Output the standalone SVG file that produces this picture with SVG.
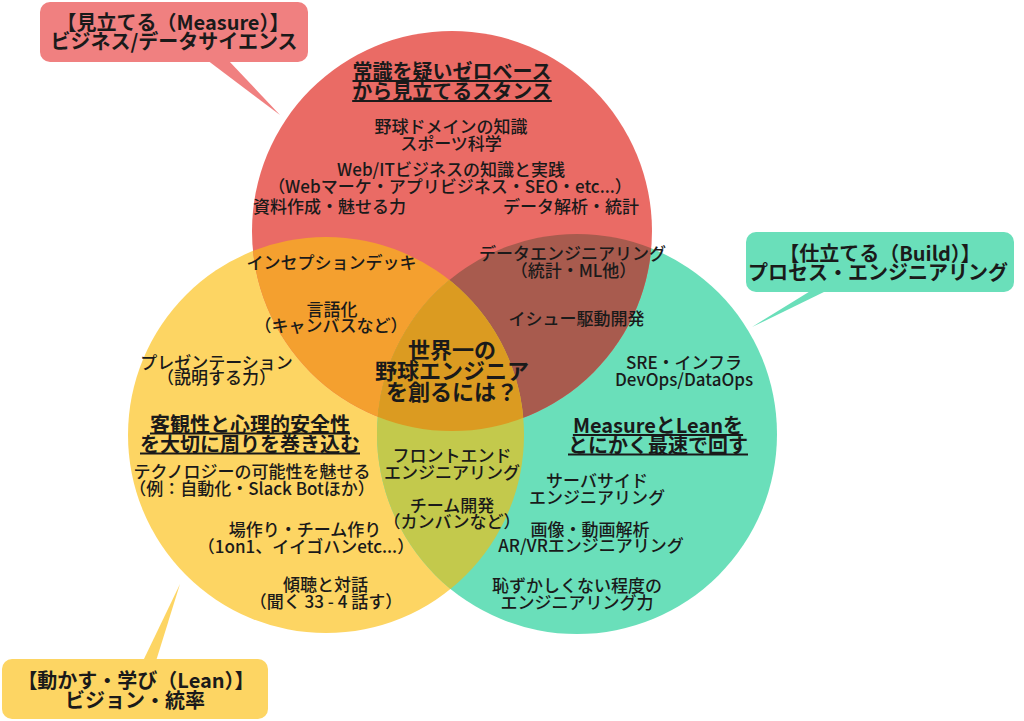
<svg xmlns="http://www.w3.org/2000/svg" width="1024" height="721" viewBox="0 0 1024 721">
<style>
text{font-family:"Noto Sans CJK JP","Noto Sans",sans-serif;fill:#1a1a1a;text-anchor:middle}
.b{font-size:17px;font-weight:500}
.t{font-size:20px;font-weight:700;text-decoration:underline}
.c{font-size:20px;font-weight:700}
.m{font-size:22px;font-weight:700}
.s{text-anchor:start}
.e{text-anchor:end}
</style>
<defs>
<clipPath id="cR"><circle cx="452" cy="231" r="200"/></clipPath>
<clipPath id="cY"><circle cx="326" cy="435" r="198"/></clipPath>
<clipPath id="cG"><circle cx="577" cy="434" r="200"/></clipPath>
</defs>
<rect width="1024" height="721" fill="#ffffff"/>
<g id="circles">
<g id="circle-lean"><circle cx="326" cy="435" r="198" fill="#FDD563"/></g>
<g id="circle-build"><circle cx="577" cy="434" r="200" fill="#6ADFBA"/></g>
<g id="circle-measure"><circle cx="452" cy="231" r="200" fill="#EA6B65"/></g>
<circle cx="326" cy="435" r="198" fill="#F4A02F" clip-path="url(#cR)"/>
<circle cx="577" cy="434" r="200" fill="#A85B4E" clip-path="url(#cR)"/>
<circle cx="326" cy="435" r="198" fill="#C3C94C" clip-path="url(#cG)"/>
<g clip-path="url(#cG)"><circle cx="326" cy="435" r="198" fill="#DB9B21" clip-path="url(#cR)"/></g>
</g>
<g id="connectors">
<polygon points="207,60 228,60 280,115" fill="#F08080"/>
<polygon points="812,290 828,290 752,327" fill="#6ADFBA"/>
<polygon points="143,661 156,661 180,584" fill="#FDD563"/>
</g>
<g id="callout-measure">
<rect x="40" y="2" width="268" height="60" rx="10" fill="#F08080"/>
<text class="c" x="173" y="30">【見立てる（Measure）】</text>
<text class="c" x="174" y="49">ビジネス/データサイエンス</text>
</g>
<g id="callout-build">
<rect x="746" y="232" width="268" height="60" rx="10" fill="#6ADFBA"/>
<text class="c" x="880" y="261">【仕立てる（Build）】</text>
<text class="c" x="878" y="280">プロセス・エンジニアリング</text>
</g>
<g id="callout-lean">
<rect x="2" y="659" width="266" height="60" rx="10" fill="#FDD563"/>
<text class="c" x="136" y="688">【動かす・学び（Lean）】</text>
<text class="c" x="135" y="708">ビジョン・統率</text>
</g>
<g id="labels-measure">
<text class="t" x="452" y="79">常識を疑いゼロベース</text>
<text class="t" x="452" y="99">から見立てるスタンス</text>
<text class="b" x="451" y="132.5">野球ドメインの知識</text>
<text class="b" x="451" y="150">スポーツ科学</text>
<text class="b" x="451" y="175.5">Web/ITビジネスの知識と実践</text>
<text class="b" x="450" y="192.5">（Webマーケ・アプリビジネス・SEO・etc...）</text>
<text class="b s" x="253" y="213">資料作成・魅せる力</text>
<text class="b e" x="639" y="213">データ解析・統計</text>
</g>
<g id="labels-overlap">
<text class="b" x="331.5" y="269">インセプションデッキ</text>
<text class="b" x="572.5" y="260">データエンジニアリング</text>
<text class="b" x="573.5" y="277">（統計・ML他）</text>
<text class="b" x="332" y="315.5">言語化</text>
<text class="b" x="331" y="332">（キャンバスなど）</text>
<text class="b" x="576.5" y="325">イシュー駆動開発</text>
<text class="b" x="452" y="462">フロントエンド</text>
<text class="b" x="452" y="479">エンジニアリング</text>
<text class="b" x="452" y="512">チーム開発</text>
<text class="b" x="452" y="528">（カンバンなど）</text>
</g>
<g id="center">
<text class="m" x="452" y="357.5">世界一の</text>
<text class="m" x="452" y="379">野球エンジニア</text>
<text class="m" x="452" y="399.5">を創るには？</text>
</g>
<g id="labels-lean">
<text class="b" x="216.5" y="369">プレゼンテーション</text>
<text class="b" x="216.5" y="384">（説明する力）</text>
<text class="t" x="250" y="431.5">客観性と心理的安全性</text>
<text class="t" x="250" y="451.5">を大切に周りを巻き込む</text>
<text class="b" x="252" y="477.5">テクノロジーの可能性を魅せる</text>
<text class="b" x="252" y="494.5">（例：自動化・Slack Botほか）</text>
<text class="b" x="305" y="535.5">場作り・チーム作り</text>
<text class="b" x="306" y="552.5">（1on1、イイゴハンetc...）</text>
<text class="b" x="325.5" y="591">傾聴と対話</text>
<text class="b" x="326" y="608">（聞く 33 - 4 話す）</text>
</g>
<g id="labels-build">
<text class="b" x="684" y="368.5">SRE・インフラ</text>
<text class="b" x="684" y="385.5">DevOps/DataOps</text>
<text class="t" x="658" y="433">MeasureとLeanを</text>
<text class="t" x="658" y="452.5">とにかく最速で回す</text>
<text class="b" x="597" y="487">サーバサイド</text>
<text class="b" x="597" y="504">エンジニアリング</text>
<text class="b" x="590" y="536">画像・動画解析</text>
<text class="b" x="591" y="552">AR/VRエンジニアリング</text>
<text class="b" x="577" y="592">恥ずかしくない程度の</text>
<text class="b" x="577" y="609">エンジニアリング力</text>
</g>
</svg>
